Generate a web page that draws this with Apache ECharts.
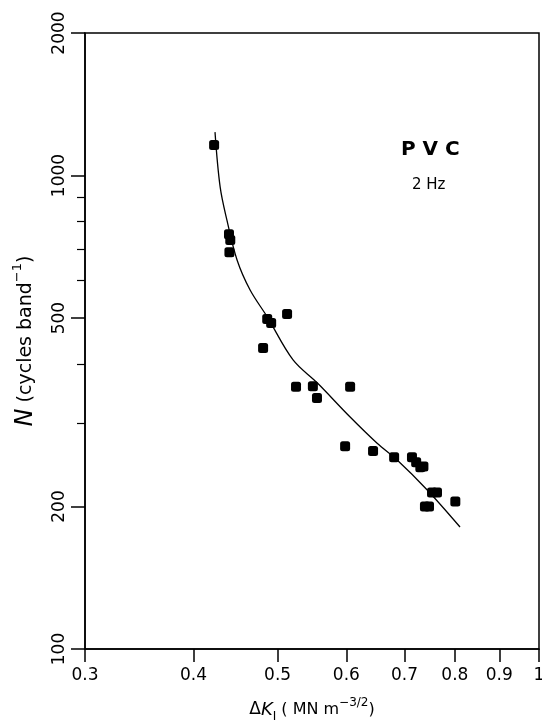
<!DOCTYPE html>
<html lang="en">
	<head>
		<meta charset="UTF-8" />
		<title>PVC 2 Hz</title>
		<script src="https://cdn.jsdelivr.net/npm/echarts@6/dist/echarts.min.js"></script>
		<style>
			* {
				margin: 0;
				padding: 0;
			}
			html,
			body {
				height: 100%;
				background: #fff;
			}
		</style>
	</head>
	<body>
		<div id="main" style="width:542px;height:726px;"></div>

		<script type="text/javascript">
			// measured points: delta K (MN m^-3/2) and N (cycles band^-1)
			var deltaK = [0.4225, 0.4395, 0.441, 0.44, 0.4864, 0.4915, 0.5127, 0.4811, 0.525, 0.549, 0.555, 0.606, 0.598, 0.644, 0.681, 0.714, 0.722, 0.73, 0.736, 0.753, 0.763, 0.739, 0.747, 0.801];
			var cycles = [1160, 752, 731, 689, 498, 488, 510, 432, 358, 359, 339, 358, 268, 262, 254, 254, 248, 242, 243, 214, 214, 200, 200, 205];

			// fitted curve
			var fitK = [0.4235, 0.4293, 0.4371, 0.449, 0.4648, 0.4864, 0.5209, 0.5553, 0.606, 0.651, 0.686, 0.743, 0.811];
			var fitN = [1235, 946, 805, 663, 573, 503, 408, 365, 309, 272, 251, 217, 181];

			var xTicks = [0.3, 0.4, 0.5, 0.6, 0.7, 0.8, 0.9, 1];
			var yTicks = [100, 200, 500, 1000, 2000];
			var yMinorTicks = [300, 400, 600, 700, 800, 900];

			var font = "DejaVu Sans";

			var points = [];
			for (var i = 0; i < deltaK.length; i++) {
				points.push([deltaK[i], cycles[i]]);
			}
			var curve = [];
			for (var j = 0; j < fitK.length; j++) {
				curve.push([fitK[j], fitN[j]]);
			}

			var myChart = echarts.init(document.getElementById("main"));
			var option = {
				animation: false,
				backgroundColor: "#fff",
				grid: {
					left: 85,
					right: 3,
					top: 33,
					bottom: 77,
					show: true,
					borderColor: "#000",
					borderWidth: 1.5,
					containLabel: false,
					outerBoundsMode: "none"
				},
				xAxis: {
					type: "log",
					logBase: 10,
					min: 0.3,
					max: 1,
					position: "bottom",
					axisLine: { lineStyle: { color: "#000", width: 1.5 } },
					axisTick: {
						inside: false,
						length: 13,
						customValues: xTicks,
						lineStyle: { color: "#000", width: 1.5 }
					},
					axisLabel: {
						customValues: xTicks,
						margin: 18,
						color: "#000",
						fontFamily: font,
						fontSize: 17,
						formatter: function(v) {
							return String(+v.toFixed(2));
						}
					},
					splitLine: { show: false },
					minorTick: { show: false },
					nameLocation: "middle",
					nameGap: 48,
					name: "{d|Δ}{k|K}{sub|I}{t| ( MN m}{sup|−3/2}{t|)}",
					nameTextStyle: {
						color: "#000",
						rich: {
							d: { fontFamily: font, fontSize: 17, lineHeight: 26, color: "#000" },
							k: { fontFamily: font, fontSize: 18, fontStyle: "italic", lineHeight: 26, color: "#000" },
							sub: { fontFamily: font, fontSize: 12, verticalAlign: "bottom", lineHeight: 26, color: "#000" },
							t: { fontFamily: font, fontSize: 16, lineHeight: 26, color: "#000" },
							sup: { fontFamily: font, fontSize: 12, verticalAlign: "top", lineHeight: 26, color: "#000" }
						}
					}
				},
				yAxis: [
					{
						type: "log",
						logBase: 10,
						min: 100,
						max: 2000,
						position: "left",
						axisLine: { lineStyle: { color: "#000", width: 1.5 } },
						axisTick: {
							inside: false,
							length: 14,
							customValues: yTicks,
							lineStyle: { color: "#000", width: 1.5 }
						},
						axisLabel: {
							customValues: yTicks,
							rotate: 90,
							margin: 17,
							color: "#000",
							fontFamily: font,
							fontSize: 17,
							formatter: function(v) {
								return String(Math.round(v));
							}
						},
						splitLine: { show: false },
						minorTick: { show: false },
						nameLocation: "middle",
						nameRotate: 90,
						nameGap: 44,
						name: "{n|N}{t| (cycles band}{sup|−1}{t|)}",
						nameTextStyle: {
							color: "#000",
							rich: {
								n: { fontFamily: font, fontSize: 24, fontStyle: "italic", lineHeight: 30, color: "#000" },
								t: { fontFamily: font, fontSize: 19, lineHeight: 30, color: "#000" },
								sup: { fontFamily: font, fontSize: 13, verticalAlign: "top", lineHeight: 30, color: "#000" }
							}
						}
					},
					{
						// second copy of the axis only for the short minor ticks
						type: "log",
						logBase: 10,
						min: 100,
						max: 2000,
						position: "left",
						axisLine: { show: false },
						axisTick: {
							inside: false,
							length: 8,
							customValues: yMinorTicks,
							lineStyle: { color: "#000", width: 1.2 }
						},
						axisLabel: { show: false },
						splitLine: { show: false }
					}
				],
				graphic: [
					{
						type: "text",
						left: 401,
						top: 140,
						style: { text: "P V C", fill: "#000", font: "bold 20px " + font }
					},
					{
						type: "text",
						left: 412,
						top: 178,
						style: { text: "2 Hz", fill: "#000", font: "15px " + font }
					}
				],
				series: [
					{
						type: "line",
						data: curve,
						smooth: 0.35,
						showSymbol: false,
						symbol: "none",
						lineStyle: { color: "#000", width: 1.3 },
						z: 2
					},
					{
						type: "scatter",
						data: points,
						symbol: "roundRect",
						symbolSize: [10, 10],
						itemStyle: { color: "#000", opacity: 1 },
						z: 3
					}
				]
			};
			myChart.setOption(option);
		</script>
	</body>
</html>
